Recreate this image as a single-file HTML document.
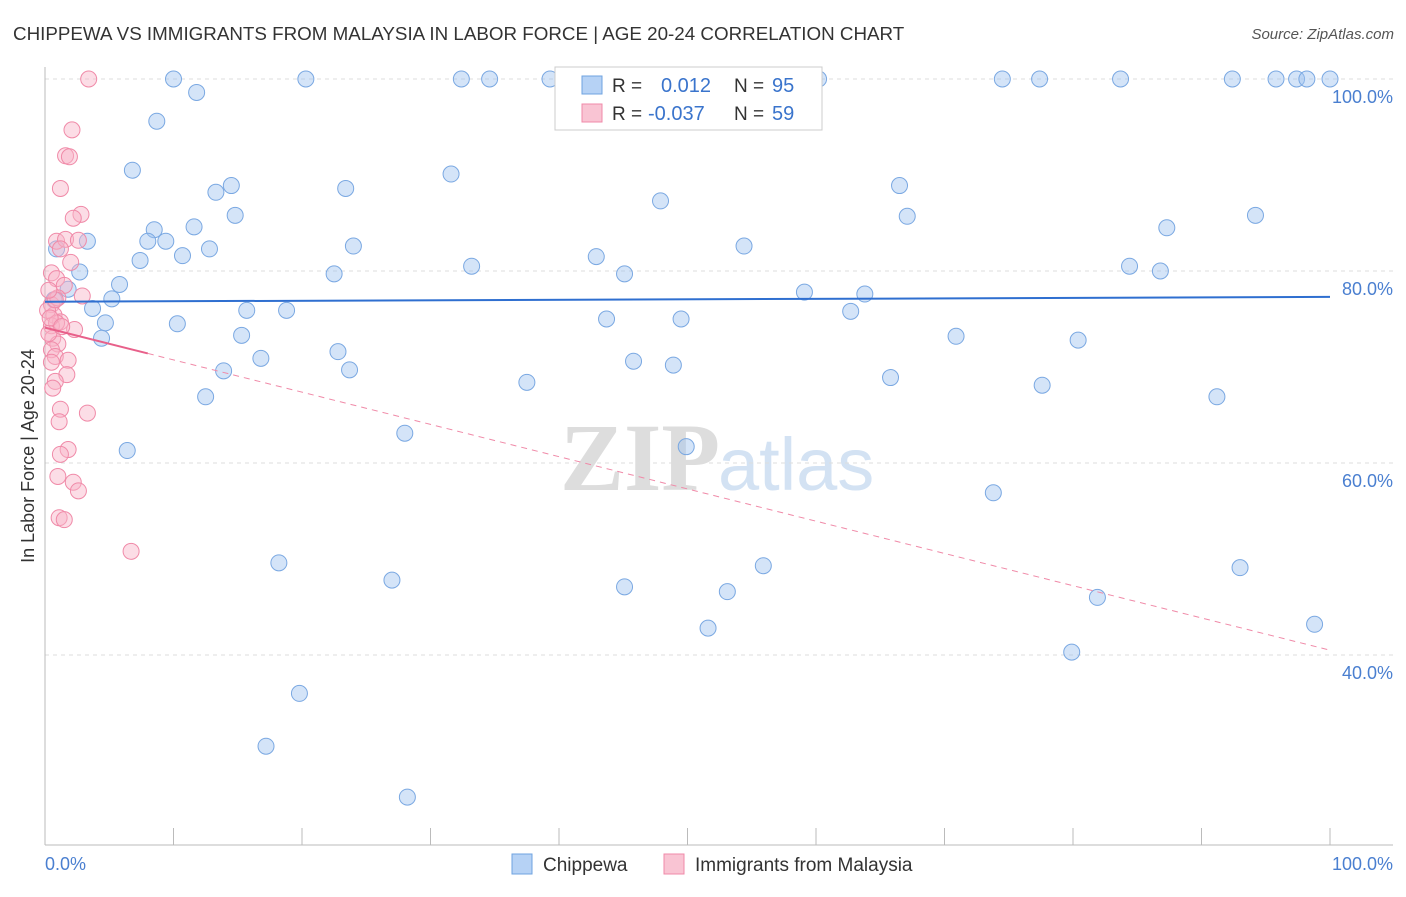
<!DOCTYPE html>
<html><head><meta charset="utf-8"><style>
body{margin:0;background:#fff;font-family:"Liberation Sans",sans-serif}
</style></head><body>
<svg id="c" width="1406" height="892" viewBox="0 0 1406 892" xmlns="http://www.w3.org/2000/svg">
<text x="13" y="40" font-size="18.8" fill="#333">CHIPPEWA VS IMMIGRANTS FROM MALAYSIA IN LABOR FORCE | AGE 20-24 CORRELATION CHART</text>
<text x="1394" y="39" font-size="15" fill="#555" text-anchor="end" font-style="italic">Source: ZipAtlas.com</text>
<text x="720" y="490" font-size="96" fill="#ddd" text-anchor="end" font-weight="bold" font-family="Liberation Serif,serif">ZIP</text>
<text x="718" y="490" font-size="74" fill="#d3e2f3">atlas</text>
<g id="grid"></g><g id="axes"></g><g id="marks"></g>
<text transform="translate(34,456) rotate(-90)" font-size="18" fill="#333" text-anchor="middle">In Labor Force | Age 20-24</text>
<text x="45" y="870" font-size="18" fill="#4a7fd0">0.0%</text>
<text x="1393" y="870" font-size="18" fill="#4a7fd0" text-anchor="end">100.0%</text>
<g>
<rect x="555" y="67" width="267" height="63" fill="#fff" stroke="#ccc"/>
<rect x="582" y="76" width="20" height="18" fill="#b6d2f5" stroke="#6fa3e0"/>
<rect x="582" y="104" width="20" height="18" fill="#f9c4d3" stroke="#f08aa8"/>
<text x="612" y="92" font-size="19" fill="#333">R =</text><text x="661" y="92" font-size="20" fill="#3a74cc">0.012</text>
<text x="734" y="92" font-size="19" fill="#333">N =</text><text x="772" y="92" font-size="20" fill="#3a74cc">95</text>
<text x="612" y="120" font-size="19" fill="#333">R =</text><text x="648" y="120" font-size="20" fill="#3a74cc">-0.037</text>
<text x="734" y="120" font-size="19" fill="#333">N =</text><text x="772" y="120" font-size="20" fill="#3a74cc">59</text>
</g>
<g>
<rect x="512" y="854" width="20" height="20" fill="#b6d2f5" stroke="#6fa3e0"/>
<text x="543" y="871" font-size="19" fill="#333">Chippewa</text>
<rect x="664" y="854" width="20" height="20" fill="#f9c4d3" stroke="#f08aa8"/>
<text x="695" y="871" font-size="19" fill="#333">Immigrants from Malaysia</text>
</g>
</svg>
<script>
const yTicks=[100,80,60,40];
const yTickLabels=["100.0%","80.0%","60.0%","40.0%"];
const xTicks=[0,10,20,30,40,50,60,70,80,90,100];
const blueX=[10.0,11.8,20.3,32.4,34.6,39.3,74.5,77.4,83.7,92.4,95.8,97.4,98.2,100,60.2,8.7,6.8,13.3,14.5,23.4,31.6,47.9,66.5,67.1,94.2,87.3,14.8,11.6,8.5,8.0,9.4,3.3,0.9,10.7,12.8,7.4,24.0,54.4,42.9,33.2,22.5,45.1,84.4,86.8,2.7,5.8,1.8,5.2,59.1,63.8,3.7,15.7,18.8,0.7,4.7,10.3,43.7,49.5,62.7,15.3,4.4,70.9,80.4,22.8,16.8,45.8,48.9,23.7,13.9,65.8,37.5,77.6,12.5,91.2,28.0,49.9,6.4,73.8,18.2,55.9,93.0,27.0,45.1,53.1,81.9,51.6,98.8,79.9,19.8,17.2,28.2,46.4];
const blueY=[100,98.6,100,100,100,100,100,100,100,100,100,100,100,100,100,95.6,90.5,88.2,88.9,88.6,90.1,87.3,88.9,85.7,85.8,84.5,85.8,84.6,84.3,83.1,83.1,83.1,82.3,81.6,82.3,81.1,82.6,82.6,81.5,80.5,79.7,79.7,80.5,80.0,79.9,78.6,78.1,77.1,77.8,77.6,76.1,75.9,75.9,77.0,74.6,74.5,75.0,75.0,75.8,73.3,73.0,73.2,72.8,71.6,70.9,70.6,70.2,69.7,69.6,68.9,68.4,68.1,66.9,66.9,63.1,61.7,61.3,56.9,49.6,49.3,49.1,47.8,47.1,46.6,46.0,42.8,43.2,40.3,36.0,30.5,25.2,96.0];
const pinkX=[3.4,2.1,1.6,1.9,1.2,2.8,2.2,0.9,1.6,2.6,1.2,2.0,0.5,0.9,1.5,2.9,0.5,0.7,1.2,0.5,0.9,2.3,0.6,1.0,0.5,0.8,1.8,0.5,1.7,0.8,0.6,1.2,3.3,1.1,1.8,1.2,2.2,2.6,1.0,1.1,1.5,6.7,1.0,0.3,0.2,0.4,1.3,0.8,0.3];
const pinkY=[100,94.7,92.0,91.9,88.6,85.9,85.5,83.1,83.3,83.2,82.3,80.9,79.8,79.2,78.5,77.4,76.5,75.4,74.7,74.3,74.6,73.9,73.0,72.4,71.8,71.1,70.7,70.5,69.2,68.5,67.8,65.6,65.2,64.3,61.4,60.9,58.0,57.1,58.6,54.3,54.1,50.8,77.2,73.5,75.9,75.1,74.2,77.0,78.0];
const blueTrend=[76.8,77.3];
const pinkTrend=[74.1,40.5];
const pinkSolidEnd=8;
const X=v=>45+v*12.85, Y=v=>79+(100-v)*9.6;
const NS="http://www.w3.org/2000/svg";
function mk(t,a,p){const e=document.createElementNS(NS,t);for(const k in a)e.setAttribute(k,a[k]);p.appendChild(e);return e;}
const g=document.getElementById('grid'),ax=document.getElementById('axes'),m=document.getElementById('marks');
yTicks.forEach((t,i)=>{
 const l=mk('line',{x1:45,x2:1393,y1:Y(t),y2:Y(t),stroke:'#ddd','stroke-dasharray':'4,4'},g);
 
 
 const tx=mk('text',{x:1393,y:Y(t)+24,'font-size':18,fill:'#4a7fd0','text-anchor':'end'},g);
 tx.textContent=yTickLabels[i];
 
 
});
const yl=mk('line',{x1:45,x2:45,y1:67,y2:845,stroke:'#bbb'},ax);


const xl=mk('line',{x1:45,x2:1393,y1:845,y2:845,stroke:'#bbb'},ax);


xTicks.forEach(t=>{const l=mk('line',{x1:X(t),x2:X(t),y1:828,y2:845,stroke:'#bbb'},ax);
 
 });
blueX.forEach((v,i)=>{const c=mk('circle',{cx:X(v),cy:Y(blueY[i]),r:8,fill:'rgba(160,196,240,0.45)',stroke:'#7aa8e2','stroke-width':1},m);
 
 });
pinkX.forEach((v,i)=>{const c=mk('circle',{cx:X(v),cy:Y(pinkY[i]),r:8,fill:'rgba(248,180,200,0.45)',stroke:'#f08aa8','stroke-width':1},m);
 
 });
const pt=v=>pinkTrend[0]+(pinkTrend[1]-pinkTrend[0])*v/100;
const bt=mk('line',{x1:X(0),x2:X(100),y1:Y(blueTrend[0]),y2:Y(blueTrend[1]),stroke:'#2f6fd0','stroke-width':2},m);


const pd=mk('line',{x1:X(pinkSolidEnd),x2:X(100),y1:Y(pt(pinkSolidEnd)),y2:Y(pt(100)),stroke:'#f08aa8','stroke-width':1,'stroke-dasharray':'6,5'},m);


const ps=mk('line',{x1:X(0),x2:X(pinkSolidEnd),y1:Y(pt(0)),y2:Y(pt(pinkSolidEnd)),stroke:'#e8608a','stroke-width':2},m);


</script>
</body></html>
